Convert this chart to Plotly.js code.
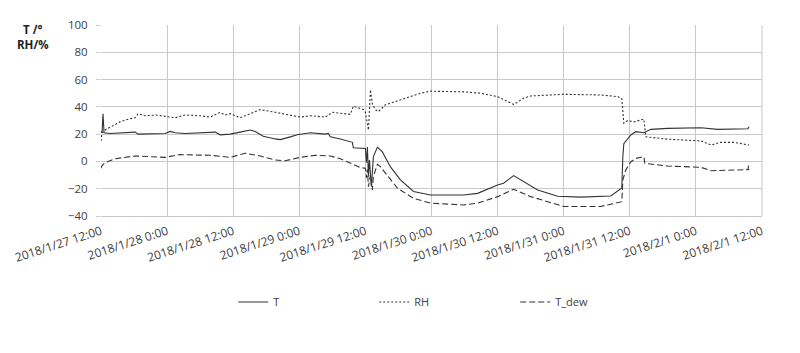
<!DOCTYPE html>
<html>
<head>
<meta charset="utf-8">
<script src="https://cdn.plot.ly/plotly-3.0.1.min.js"></script>
<style>html,body{margin:0;padding:0;background:#fff;}#chart{width:800px;height:353px;}</style>
</head>
<body>
<div id="chart"></div>
<script>
const tTime = ["2018-01-27 12:00","2018-01-27 12:11","2018-01-27 12:22","2018-01-27 12:33","2018-01-27 13:38","2018-01-27 15:27","2018-01-27 18:11","2018-01-27 18:44","2018-01-27 20:00","2018-01-27 23:38","2018-01-28 00:33","2018-01-28 01:27","2018-01-28 03:16","2018-01-28 06:00","2018-01-28 08:44","2018-01-28 09:38","2018-01-28 11:27","2018-01-28 13:16","2018-01-28 15:05","2018-01-28 16:00","2018-01-28 17:27","2018-01-28 19:38","2018-01-28 20:33","2018-01-28 22:22","2018-01-28 23:38","2018-01-29 02:00","2018-01-29 04:44","2018-01-29 05:16","2018-01-29 05:38","2018-01-29 07:27","2018-01-29 09:16","2018-01-29 09:38","2018-01-29 09:49","2018-01-29 11:38","2018-01-29 12:00","2018-01-29 12:11","2018-01-29 12:22","2018-01-29 12:33","2018-01-29 12:44","2018-01-29 13:05","2018-01-29 13:16","2018-01-29 13:27","2018-01-29 14:11","2018-01-29 15:05","2018-01-29 16:33","2018-01-29 18:22","2018-01-29 20:44","2018-01-29 23:49","2018-01-30 05:49","2018-01-30 08:22","2018-01-30 12:00","2018-01-30 13:05","2018-01-30 14:55","2018-01-30 16:44","2018-01-30 19:16","2018-01-30 22:55","2018-01-31 03:05","2018-01-31 08:33","2018-01-31 10:00","2018-01-31 10:33","2018-01-31 10:44","2018-01-31 10:55","2018-01-31 12:11","2018-01-31 13:05","2018-01-31 14:33","2018-01-31 15:49","2018-01-31 18:55","2018-02-01 00:55","2018-02-01 04:00","2018-02-01 06:55","2018-02-01 09:27","2018-02-01 09:38"];
const tVal = [22,21,35,21,20.5,21,21.5,20,20,20.5,22,21,20.5,21,21.5,19.5,20,21.5,23,22,18.5,16.5,16,18,19.5,21,20,20.5,18,16.5,14.5,14,10,9.5,9.5,-1,10.5,-11,1,-18.5,-6.5,3.5,10.5,7,-4,-13.5,-22,-24.6,-24.6,-23.4,-17.3,-16,-10.4,-14.8,-21,-25.5,-26.2,-25.3,-21,-19.5,3.5,13,19.4,21.8,21,23.5,24.2,24.7,23.5,24,24,25.5];

const rhTime = ["2018-01-27 12:00","2018-01-27 12:11","2018-01-27 12:44","2018-01-27 13:38","2018-01-27 15:27","2018-01-27 17:00","2018-01-27 18:11","2018-01-27 18:44","2018-01-27 20:00","2018-01-27 22:00","2018-01-27 23:38","2018-01-28 01:27","2018-01-28 03:16","2018-01-28 06:00","2018-01-28 07:49","2018-01-28 08:44","2018-01-28 09:38","2018-01-28 10:30","2018-01-28 11:27","2018-01-28 13:16","2018-01-28 15:05","2018-01-28 16:55","2018-01-28 19:38","2018-01-28 22:22","2018-01-29 00:11","2018-01-29 02:00","2018-01-29 04:44","2018-01-29 06:00","2018-01-29 09:16","2018-01-29 09:49","2018-01-29 11:38","2018-01-29 12:00","2018-01-29 12:22","2018-01-29 12:33","2018-01-29 12:55","2018-01-29 13:16","2018-01-29 13:49","2018-01-29 14:22","2018-01-29 15:38","2018-01-29 18:22","2018-01-29 22:00","2018-01-29 23:49","2018-01-30 05:49","2018-01-30 08:55","2018-01-30 12:00","2018-01-30 14:55","2018-01-30 16:44","2018-01-30 18:00","2018-01-31 00:00","2018-01-31 06:44","2018-01-31 09:49","2018-01-31 10:33","2018-01-31 10:55","2018-01-31 11:38","2018-01-31 12:44","2018-01-31 14:33","2018-01-31 14:55","2018-01-31 18:55","2018-02-01 00:55","2018-02-01 02:44","2018-02-01 04:30","2018-02-01 06:55","2018-02-01 09:38"];
const rhVal = [15,21,23,25,29,31,32,35,33.5,34,33,32,34,33.5,32.5,34,36,34,35,32,35,38,36,34,32.5,33.5,32.5,36,34.5,40.5,38,36,25,23,52.5,42,38,36.5,41.5,45,50,51.5,51,50,47.5,41.8,46.3,48,49.2,48.7,47.5,46,28,30,29,31,18,16.3,15,12,14,14,12];

const dTime = ["2018-01-27 12:00","2018-01-27 12:11","2018-01-27 12:44","2018-01-27 14:33","2018-01-27 18:11","2018-01-27 23:38","2018-01-28 02:22","2018-01-28 07:49","2018-01-28 11:27","2018-01-28 14:11","2018-01-28 16:55","2018-01-28 19:38","2018-01-28 21:27","2018-01-29 00:11","2018-01-29 02:55","2018-01-29 05:38","2018-01-29 07:27","2018-01-29 09:16","2018-01-29 11:05","2018-01-29 12:00","2018-01-29 12:11","2018-01-29 12:22","2018-01-29 12:33","2018-01-29 12:55","2018-01-29 13:16","2018-01-29 13:27","2018-01-29 14:11","2018-01-29 14:44","2018-01-29 16:33","2018-01-29 17:49","2018-01-29 20:44","2018-01-29 23:49","2018-01-30 05:49","2018-01-30 08:22","2018-01-30 12:00","2018-01-30 14:55","2018-01-30 18:00","2018-01-31 00:00","2018-01-31 06:44","2018-01-31 09:49","2018-01-31 10:33","2018-01-31 10:44","2018-01-31 11:16","2018-01-31 12:11","2018-01-31 13:05","2018-01-31 14:33","2018-01-31 14:44","2018-01-31 18:55","2018-02-01 00:55","2018-02-01 02:44","2018-02-01 06:55","2018-02-01 09:27","2018-02-01 09:33","2018-02-01 09:38"];
const dVal = [-5,-3,-1,2,4,3,5,4.5,3,6,4,1,0.5,3,4.5,4,2,-1,-4.5,-5,-12,-6,-18.5,-10,-21,-11,-2,-4,-13.5,-19.6,-27,-30.6,-31.9,-30.6,-25.8,-20.4,-25.8,-33,-33,-30,-29.5,-13.6,-6.3,-0.2,2.2,3.5,-1.4,-3.4,-4.3,-6.8,-6.3,-6,-3,-6];

const tickVals = ["2018-01-27 12:00","2018-01-28 00:00","2018-01-28 12:00","2018-01-29 00:00","2018-01-29 12:00","2018-01-30 00:00","2018-01-30 12:00","2018-01-31 00:00","2018-01-31 12:00","2018-02-01 00:00","2018-02-01 12:00"];
const tickText = ["2018/1/27 12:00","2018/1/28 0:00","2018/1/28 12:00","2018/1/29 0:00","2018/1/29 12:00","2018/1/30 0:00","2018/1/30 12:00","2018/1/31 0:00","2018/1/31 12:00","2018/2/1 0:00","2018/2/1 12:00"];

const lineColor = '#333333';
const traces = [
  {x: tTime, y: tVal, name: 'T', type: 'scatter', mode: 'lines', line: {color: lineColor, width: 1.1}},
  {x: rhTime, y: rhVal, name: 'RH', type: 'scatter', mode: 'lines', line: {color: lineColor, width: 1.1, dash: '2px,2px'}},
  {x: dTime, y: dVal, name: 'T_dew', type: 'scatter', mode: 'lines', line: {color: lineColor, width: 1.1, dash: '6px,3px'}}
];

const fam = 'Open Sans, Liberation Sans, sans-serif';
const layout = {
  width: 800, height: 353,
  margin: {l: 101, r: 38, t: 25, b: 137},
  paper_bgcolor: '#fff', plot_bgcolor: '#fff',
  font: {family: fam, size: 11, color: '#404040'},
  showlegend: true,
  legend: {orientation: 'h', x: 0.52, xanchor: 'center', y: -0.45, yanchor: 'middle', entrywidth: 96, font: {family: fam, size: 11, color: '#404040'}},
  xaxis: {
    type: 'date',
    range: ['2018-01-27 12:00', '2018-02-01 12:00'],
    tickmode: 'array', tickvals: tickVals, ticktext: tickText,
    tickangle: -18,
    showgrid: true, gridcolor: '#c8c8c8', gridwidth: 1,
    showline: true, linecolor: '#c8c8c8', mirror: false,
    ticks: 'outside', ticklen: 3, tickcolor: 'rgba(0,0,0,0)', zeroline: false,
    tickfont: {family: fam, size: 12, color: '#404040'}
  },
  yaxis: {
    range: [-40, 100], tickvals: [-40,-20,0,20,40,60,80,100],
    showgrid: true, gridcolor: '#c8c8c8', gridwidth: 1,
    showline: false, zeroline: false,
    ticks: 'outside', ticklen: 4, tickcolor: '#c8c8c8',
    ticklabelstandoff: 6,
    tickfont: {family: fam, size: 11.5, color: '#404040'}
  },
  shapes: [
    {type: 'line', xref: 'paper', yref: 'paper', x0: 1, x1: 1, y0: 0, y1: 1, line: {color: '#c8c8c8', width: 1}}
  ],
  annotations: [
    {xref: 'paper', yref: 'paper', x: -0.103, y: 0.935, xanchor: 'center', yanchor: 'middle', showarrow: false,
     text: '<b>T /°</b><br><b>RH/%</b>', align: 'center', font: {family: fam, size: 11.5, color: '#222'}}
  ]
};

Plotly.newPlot('chart', traces, layout, {displayModeBar: false, staticPlot: true});
</script>
</body>
</html>
